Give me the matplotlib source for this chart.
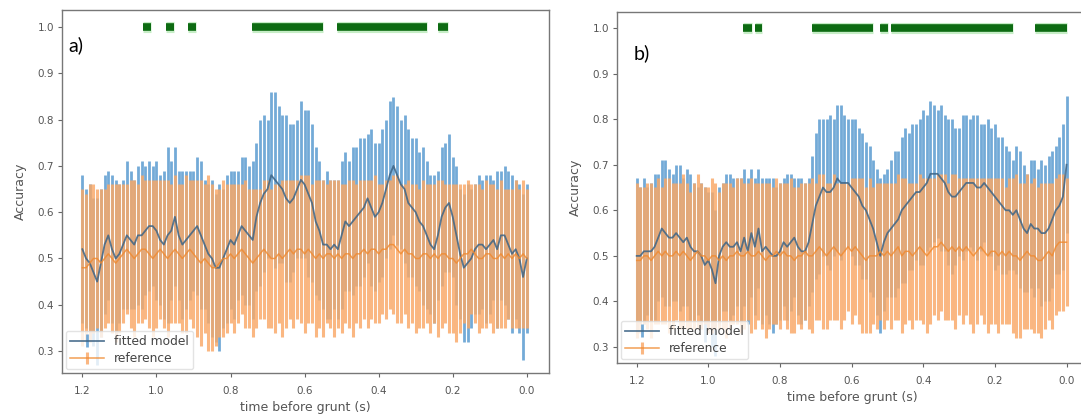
import numpy as np
import matplotlib
matplotlib.use("Agg")
import matplotlib.pyplot as plt

# time before grunt (s), one sample every 10 ms from 1.2 down to 0.0
time = np.linspace(1.2, 0.0, 121)

# ---- panel a) ----
fit_a = [0.52, 0.50, 0.49, 0.47, 0.45, 0.49, 0.53, 0.55, 0.52, 0.50,
         0.51, 0.53, 0.55, 0.54, 0.53, 0.55, 0.55, 0.56, 0.57, 0.57,
         0.56, 0.54, 0.53, 0.55, 0.56, 0.59, 0.55, 0.53, 0.54, 0.55,
         0.56, 0.57, 0.55, 0.53, 0.51, 0.50, 0.48, 0.48, 0.50, 0.52,
         0.54, 0.53, 0.55, 0.57, 0.56, 0.55, 0.54, 0.59, 0.62, 0.64,
         0.65, 0.68, 0.67, 0.66, 0.65, 0.63, 0.62, 0.63, 0.65, 0.67,
         0.66, 0.64, 0.62, 0.58, 0.56, 0.53, 0.53, 0.52, 0.53, 0.52,
         0.55, 0.58, 0.57, 0.58, 0.59, 0.60, 0.61, 0.63, 0.61, 0.59,
         0.60, 0.62, 0.65, 0.68, 0.70, 0.68, 0.66, 0.65, 0.62, 0.61,
         0.60, 0.58, 0.57, 0.55, 0.53, 0.52, 0.55, 0.59, 0.61, 0.62,
         0.59, 0.55, 0.51, 0.48, 0.49, 0.50, 0.52, 0.53, 0.53, 0.52,
         0.53, 0.54, 0.52, 0.55, 0.55, 0.53, 0.51, 0.52, 0.50, 0.46,
         0.50]
fit_a_err = [0.16, 0.15, 0.17, 0.16, 0.18, 0.16, 0.15, 0.14, 0.16, 0.17,
             0.15, 0.14, 0.16, 0.15, 0.14, 0.15, 0.16, 0.14, 0.14, 0.13,
             0.15, 0.14, 0.16, 0.19, 0.15, 0.15, 0.14, 0.16, 0.15, 0.14,
             0.13, 0.15, 0.16, 0.14, 0.15, 0.17, 0.16, 0.18, 0.15, 0.16,
             0.15, 0.16, 0.14, 0.15, 0.16, 0.15, 0.17, 0.16, 0.18, 0.17,
             0.15, 0.18, 0.19, 0.17, 0.16, 0.18, 0.17, 0.16, 0.15, 0.17,
             0.16, 0.18, 0.17, 0.16, 0.15, 0.14, 0.16, 0.15, 0.14, 0.15,
             0.16, 0.15, 0.14, 0.16, 0.15, 0.16, 0.15, 0.14, 0.17, 0.16,
             0.15, 0.16, 0.15, 0.16, 0.15, 0.15, 0.14, 0.16, 0.16, 0.15,
             0.16, 0.15, 0.17, 0.16, 0.15, 0.16, 0.14, 0.15, 0.14, 0.15,
             0.13, 0.15, 0.14, 0.16, 0.17, 0.15, 0.14, 0.15, 0.14, 0.16,
             0.15, 0.13, 0.17, 0.14, 0.15, 0.16, 0.17, 0.15, 0.16, 0.18,
             0.16]
ref_a = [0.48, 0.48, 0.49, 0.50, 0.50, 0.49, 0.50, 0.51, 0.50, 0.49,
         0.50, 0.51, 0.52, 0.51, 0.50, 0.51, 0.52, 0.52, 0.51, 0.50,
         0.51, 0.52, 0.51, 0.50, 0.51, 0.52, 0.51, 0.50, 0.51, 0.52,
         0.51, 0.50, 0.49, 0.50, 0.49, 0.48, 0.48, 0.49, 0.50, 0.50,
         0.51, 0.50, 0.51, 0.52, 0.51, 0.50, 0.49, 0.50, 0.51, 0.52,
         0.51, 0.50, 0.50, 0.51, 0.50, 0.51, 0.52, 0.51, 0.52, 0.52,
         0.51, 0.52, 0.51, 0.50, 0.51, 0.50, 0.51, 0.51, 0.50, 0.51,
         0.50, 0.51, 0.51, 0.50, 0.51, 0.51, 0.52, 0.51, 0.52, 0.52,
         0.51, 0.52, 0.52, 0.53, 0.53, 0.52, 0.51, 0.52, 0.51, 0.51,
         0.50, 0.50, 0.51, 0.51, 0.50, 0.51, 0.50, 0.51, 0.51, 0.50,
         0.50, 0.49, 0.50, 0.51, 0.51, 0.52, 0.51, 0.50, 0.50, 0.51,
         0.51, 0.50, 0.50, 0.51, 0.50, 0.51, 0.50, 0.51, 0.50, 0.51,
         0.50]
ref_a_err = [0.17, 0.16, 0.17, 0.16, 0.15, 0.16, 0.15, 0.15, 0.16, 0.17,
             0.16, 0.15, 0.14, 0.16, 0.17, 0.15, 0.16, 0.15, 0.16, 0.17,
             0.16, 0.15, 0.16, 0.17, 0.15, 0.16, 0.15, 0.16, 0.17, 0.15,
             0.16, 0.17, 0.18, 0.16, 0.19, 0.18, 0.17, 0.16, 0.17, 0.16,
             0.15, 0.16, 0.15, 0.14, 0.16, 0.15, 0.16, 0.15, 0.14, 0.15,
             0.16, 0.15, 0.16, 0.15, 0.17, 0.16, 0.15, 0.16, 0.15, 0.16,
             0.17, 0.16, 0.15, 0.17, 0.16, 0.17, 0.15, 0.16, 0.17, 0.16,
             0.16, 0.15, 0.16, 0.17, 0.15, 0.16, 0.15, 0.16, 0.15, 0.16,
             0.15, 0.14, 0.15, 0.14, 0.15, 0.16, 0.15, 0.14, 0.16, 0.15,
             0.16, 0.15, 0.16, 0.15, 0.16, 0.15, 0.17, 0.16, 0.15, 0.16,
             0.16, 0.17, 0.16, 0.15, 0.16, 0.14, 0.15, 0.16, 0.15, 0.16,
             0.15, 0.16, 0.15, 0.16, 0.15, 0.14, 0.15, 0.16, 0.15, 0.16,
             0.15]
# significant stretches (start, end) in seconds
sig_a_start = [1.036, 0.974, 0.914, 0.742, 0.512, 0.240]
sig_a_end = [1.014, 0.952, 0.892, 0.550, 0.270, 0.213]

# ---- panel b) ----
fit_b = [0.50, 0.50, 0.51, 0.51, 0.51, 0.52, 0.54, 0.56, 0.55, 0.54,
         0.54, 0.55, 0.54, 0.53, 0.54, 0.52, 0.51, 0.51, 0.50, 0.48,
         0.49, 0.47, 0.44, 0.50, 0.52, 0.53, 0.52, 0.52, 0.53, 0.51,
         0.54, 0.51, 0.55, 0.52, 0.56, 0.51, 0.52, 0.51, 0.50, 0.50,
         0.51, 0.53, 0.52, 0.53, 0.54, 0.52, 0.51, 0.51, 0.53, 0.57,
         0.61, 0.63, 0.65, 0.64, 0.64, 0.65, 0.67, 0.66, 0.66, 0.66,
         0.65, 0.64, 0.63, 0.61, 0.60, 0.58, 0.56, 0.53, 0.50, 0.53,
         0.55, 0.56, 0.57, 0.58, 0.60, 0.61, 0.62, 0.63, 0.64, 0.64,
         0.65, 0.66, 0.68, 0.68, 0.68, 0.67, 0.66, 0.64, 0.63, 0.63,
         0.64, 0.65, 0.66, 0.66, 0.66, 0.65, 0.65, 0.66, 0.65, 0.64,
         0.63, 0.62, 0.61, 0.60, 0.60, 0.59, 0.60, 0.58, 0.56, 0.55,
         0.57, 0.56, 0.56, 0.55, 0.55, 0.56, 0.58, 0.60, 0.61, 0.63,
         0.70]
fit_b_err = [0.17, 0.15, 0.16, 0.14, 0.15, 0.16, 0.14, 0.15, 0.16, 0.15,
             0.14, 0.15, 0.16, 0.14, 0.15, 0.16, 0.15, 0.14, 0.16, 0.17,
             0.15, 0.17, 0.16, 0.15, 0.14, 0.15, 0.16, 0.15, 0.14, 0.16,
             0.15, 0.16, 0.14, 0.15, 0.13, 0.16, 0.15, 0.16, 0.17, 0.15,
             0.15, 0.14, 0.16, 0.15, 0.13, 0.15, 0.16, 0.15, 0.14, 0.15,
             0.16, 0.17, 0.15, 0.16, 0.17, 0.15, 0.16, 0.17, 0.15, 0.14,
             0.15, 0.16, 0.15, 0.16, 0.15, 0.16, 0.15, 0.16, 0.17, 0.15,
             0.14, 0.15, 0.16, 0.15, 0.16, 0.17, 0.15, 0.16, 0.15, 0.16,
             0.17, 0.15, 0.16, 0.15, 0.14, 0.16, 0.15, 0.16, 0.17, 0.15,
             0.14, 0.16, 0.15, 0.14, 0.15, 0.16, 0.14, 0.13, 0.15, 0.14,
             0.16, 0.14, 0.15, 0.14, 0.13, 0.12, 0.14, 0.15, 0.14, 0.13,
             0.14, 0.15, 0.13, 0.16, 0.15, 0.16, 0.15, 0.14, 0.15, 0.16,
             0.15]
ref_b = [0.49, 0.49, 0.50, 0.50, 0.49, 0.50, 0.51, 0.50, 0.51, 0.50,
         0.50, 0.51, 0.50, 0.51, 0.50, 0.49, 0.50, 0.51, 0.50, 0.50,
         0.49, 0.50, 0.50, 0.49, 0.50, 0.49, 0.50, 0.50, 0.51, 0.50,
         0.50, 0.51, 0.50, 0.50, 0.51, 0.50, 0.49, 0.50, 0.50, 0.51,
         0.50, 0.51, 0.50, 0.50, 0.49, 0.50, 0.50, 0.51, 0.50, 0.50,
         0.51, 0.52, 0.51, 0.50, 0.51, 0.52, 0.51, 0.50, 0.51, 0.52,
         0.51, 0.52, 0.51, 0.50, 0.49, 0.50, 0.50, 0.50, 0.51, 0.50,
         0.51, 0.50, 0.51, 0.52, 0.50, 0.51, 0.51, 0.50, 0.51, 0.52,
         0.51, 0.50, 0.51, 0.52, 0.52, 0.53, 0.52, 0.51, 0.52, 0.51,
         0.52, 0.51, 0.52, 0.51, 0.50, 0.51, 0.52, 0.51, 0.50, 0.51,
         0.51, 0.50, 0.51, 0.50, 0.51, 0.50, 0.50, 0.49, 0.50, 0.51,
         0.50, 0.50, 0.49, 0.49, 0.50, 0.51, 0.50, 0.52, 0.53, 0.53,
         0.53]
ref_b_err = [0.17, 0.16, 0.15, 0.16, 0.17, 0.15, 0.16, 0.15, 0.16, 0.17,
             0.16, 0.15, 0.16, 0.17, 0.16, 0.15, 0.16, 0.17, 0.16, 0.15,
             0.16, 0.17, 0.16, 0.15, 0.16, 0.17, 0.16, 0.15, 0.16, 0.17,
             0.16, 0.15, 0.17, 0.16, 0.15, 0.16, 0.17, 0.16, 0.15, 0.16,
             0.16, 0.15, 0.16, 0.17, 0.16, 0.15, 0.16, 0.15, 0.16, 0.17,
             0.15, 0.16, 0.17, 0.16, 0.15, 0.16, 0.15, 0.16, 0.15, 0.14,
             0.16, 0.15, 0.16, 0.17, 0.16, 0.17, 0.15, 0.16, 0.15, 0.16,
             0.15, 0.16, 0.15, 0.16, 0.17, 0.16, 0.15, 0.16, 0.15, 0.16,
             0.16, 0.17, 0.16, 0.15, 0.16, 0.15, 0.16, 0.15, 0.16, 0.17,
             0.15, 0.16, 0.15, 0.16, 0.17, 0.16, 0.15, 0.16, 0.17, 0.16,
             0.16, 0.17, 0.16, 0.15, 0.16, 0.17, 0.18, 0.17, 0.16, 0.17,
             0.16, 0.17, 0.16, 0.17, 0.16, 0.15, 0.16, 0.15, 0.15, 0.15,
             0.14]
sig_b_start = [0.902, 0.871, 0.710, 0.520, 0.490, 0.089]
sig_b_end = [0.877, 0.849, 0.540, 0.497, 0.148, 0.000]

W, H = 1081, 418
fig = plt.figure(figsize=(W / 100, H / 100), dpi=100)


def px_axes(left, top, right, bottom):
    return fig.add_axes([left / W, 1 - bottom / H, (right - left) / W, (bottom - top) / H])


def panel(ax, fit, fit_err, ref, ref_err, s0, s1, ylim):
    ax.errorbar(time, fit, yerr=fit_err, color="#3d6485", ecolor="#5b9bd0",
                elinewidth=2.0, lw=1.3, alpha=0.85, label="fitted model")
    ax.errorbar(time, ref, yerr=ref_err, color="#f08a30", ecolor="#f9a866",
                elinewidth=2.2, lw=1.1, alpha=0.82, label="reference")
    ax.hlines(np.full(len(s0), 1.0), s0, s1, color="#8fdc8f", lw=8, alpha=0.5)
    ax.hlines(np.full(len(s0), 1.0), s0, s1, color="#0d6b12", lw=5.5)
    ax.set_xlim(1.255, -0.06)
    ax.set_ylim(*ylim)
    ax.set_xticks([1.2, 1.0, 0.8, 0.6, 0.4, 0.2, 0.0])
    ax.set_yticks([0.3, 0.4, 0.5, 0.6, 0.7, 0.8, 0.9, 1.0])
    ax.tick_params(labelsize=7.5, labelcolor="#555555", color="#666666",
                   length=3, width=0.8)
    ax.tick_params(axis="x", pad=6)
    ax.tick_params(axis="y", pad=2.5)
    for sp in ax.spines.values():
        sp.set_color("#777777")
        sp.set_linewidth(1.0)
    ax.set_xlabel("time before grunt (s)", fontsize=9, color="#555555", labelpad=4)
    ax.set_ylabel("Accuracy", fontsize=9, color="#555555", labelpad=8)
    leg = ax.legend(loc="lower left", fontsize=8.8, frameon=True,
                    borderaxespad=0.3, handlelength=2.8, labelspacing=0.35,
                    borderpad=0.35)
    leg.get_frame().set_edgecolor("#dddddd")
    for t in leg.get_texts():
        t.set_color("#444444")


ax_a = px_axes(62, 10, 549, 373)
panel(ax_a, fit_a, fit_a_err, ref_a, ref_a_err, sig_a_start, sig_a_end, (0.2525, 1.037))

ax_b = px_axes(617, 12, 1088, 363)
panel(ax_b, fit_b, fit_b_err, ref_b, ref_b_err, sig_b_start, sig_b_end, (0.265, 1.035))

fig.text(68 / W, 1 - 45 / H, "a)", fontsize=14, family="Lato", va="center")
fig.text(634 / W, 1 - 53 / H, "b)", fontsize=14, family="Lato", va="center")

fig.savefig("out.png", dpi=100)
